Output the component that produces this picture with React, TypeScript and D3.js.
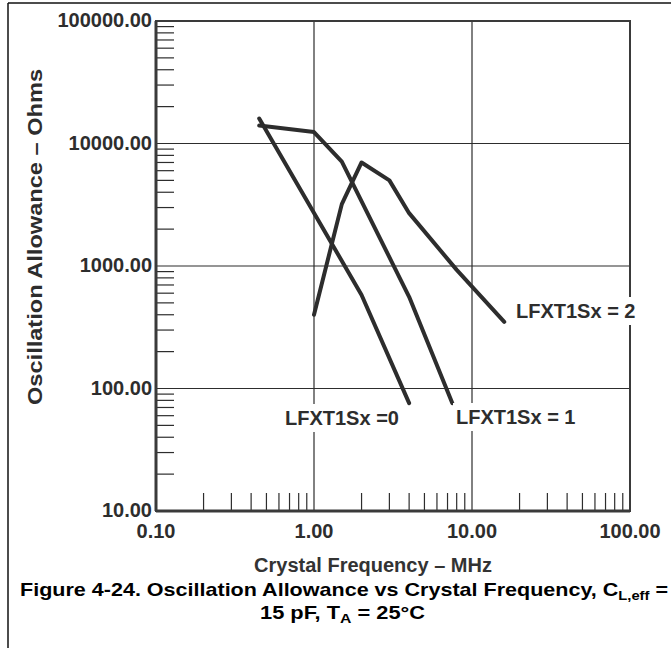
import React, { useEffect, useRef } from 'react';
import * as d3 from 'd3';

// values (frequency in MHz, allowance in Ohms)
const freq0 = [0.45, 2, 4];
const ohms0 = [16000, 580, 76];
const freq1 = [0.45, 1, 1.5, 4, 7.5];
const ohms1 = [14000, 12400, 7100, 560, 76];
const freq2 = [1, 1.5, 2, 3, 4, 8, 16];
const ohms2 = [400, 3200, 7000, 5000, 2700, 930, 350];

const seriesNames = ['LFXT1Sx =0', 'LFXT1Sx = 1', 'LFXT1Sx = 2'];

const xTicks = [0.1, 1, 10, 100];
const xTickLabels = ['0.10', '1.00', '10.00', '100.00'];
const yTicks = [10, 100, 1000, 10000, 100000];
const yTickLabels = ['10.00', '100.00', '1000.00', '10000.00', '100000.00'];
const minorSteps = [2, 3, 4, 5, 6, 7, 8, 9];

const FONT = '"Liberation Sans", Arial, Helvetica, sans-serif';
const INK = '#2d2d2d';

const App = () => {
  const ref = useRef<SVGSVGElement>(null);

  useEffect(() => {
    document.body.style.margin = '0';
    const svg = d3.select(ref.current);
    svg.selectAll('*').remove();

    const left = 156, right = 630, top = 21, bottom = 511;
    const x = d3.scaleLog().domain([0.1, 100]).range([left, right]);
    const y = d3.scaleLog().domain([10, 100000]).range([bottom, top]);

    // page frame (top and left rules only)
    svg.append('line').attr('x1', 8).attr('x2', 671).attr('y1', 3).attr('y2', 3)
      .attr('stroke', '#111').attr('stroke-width', 1.5);
    svg.append('line').attr('x1', 8).attr('x2', 8).attr('y1', 3).attr('y2', 648)
      .attr('stroke', '#111').attr('stroke-width', 1.5);

    // minor ticks: 2..9 inside every decade
    const xMinor = xTicks.slice(0, -1).flatMap(p => minorSteps.map(k => p * k));
    const yMinor = yTicks.slice(0, -1).flatMap(p => minorSteps.map(k => p * k));

    svg.append('g').selectAll('line')
      .data(yMinor)
      .enter().append('line')
      .attr('x1', left).attr('x2', left + 18)
      .attr('y1', d => y(d)).attr('y2', d => y(d))
      .attr('stroke', INK).attr('stroke-width', 1.2);

    svg.append('g').selectAll('line')
      .data(xMinor)
      .enter().append('line')
      .attr('x1', d => x(d)).attr('x2', d => x(d))
      .attr('y1', bottom).attr('y2', bottom - 18)
      .attr('stroke', INK).attr('stroke-width', 1.2);

    // major grid
    svg.append('g').selectAll('line')
      .data(yTicks.slice(1, -1))
      .enter().append('line')
      .attr('x1', left).attr('x2', right)
      .attr('y1', d => y(d)).attr('y2', d => y(d))
      .attr('stroke', INK).attr('stroke-width', 1.2);

    svg.append('g').selectAll('line')
      .data(xTicks.slice(1, -1))
      .enter().append('line')
      .attr('x1', d => x(d)).attr('x2', d => x(d))
      .attr('y1', top).attr('y2', bottom)
      .attr('stroke', INK).attr('stroke-width', 1.2);

    // plot frame
    svg.append('rect')
      .attr('x', left).attr('y', top)
      .attr('width', right - left).attr('height', bottom - top)
      .attr('fill', 'none').attr('stroke', '#3a3a3a').attr('stroke-width', 2);
    svg.append('line').attr('x1', left).attr('x2', left).attr('y1', top).attr('y2', bottom)
      .attr('stroke', '#3a3a3a').attr('stroke-width', 3);
    svg.append('line').attr('x1', left).attr('x2', right).attr('y1', bottom).attr('y2', bottom)
      .attr('stroke', '#3a3a3a').attr('stroke-width', 3);

    // tick labels
    svg.append('g').selectAll('text')
      .data(yTicks)
      .enter().append('text')
      .attr('x', left - 4)
      .attr('y', d => y(d) + 6)
      .attr('text-anchor', 'end')
      .style('font-family', FONT).style('font-weight', 'bold').style('font-size', '20px')
      .attr('fill', INK)
      .text((d, i) => yTickLabels[i]);

    svg.append('g').selectAll('text')
      .data(xTicks)
      .enter().append('text')
      .attr('x', d => x(d))
      .attr('y', 538)
      .attr('text-anchor', 'middle')
      .style('font-family', FONT).style('font-weight', 'bold').style('font-size', '20px')
      .attr('fill', INK)
      .text((d, i) => xTickLabels[i]);

    // curves
    const line = d3.line<[number, number]>()
      .x(d => x(d[0]))
      .y(d => y(d[1]));

    const curves: [number, number][][] = [
      freq0.map((f, i) => [f, ohms0[i]]),
      freq1.map((f, i) => [f, ohms1[i]]),
      freq2.map((f, i) => [f, ohms2[i]]),
    ];

    svg.append('g').selectAll('path')
      .data(curves)
      .enter().append('path')
      .attr('d', d => line(d))
      .attr('fill', 'none')
      .attr('stroke', INK)
      .attr('stroke-width', 4)
      .attr('stroke-linecap', 'round')
      .attr('stroke-linejoin', 'round');

    // curve labels, with a white box so the grid stops behind them
    const labelPos = [
      { x: 285, y: 425 },
      { x: 456, y: 424 },
      { x: 516, y: 318 },
    ];
    const labels = svg.append('g');
    seriesNames.forEach((name, i) => {
      const t = labels.append('text')
        .attr('x', labelPos[i].x)
        .attr('y', labelPos[i].y)
        .style('font-family', FONT).style('font-weight', 'bold').style('font-size', '20px')
        .attr('fill', INK)
        .text(name);
      const bb = (t.node() as SVGTextElement).getBBox();
      labels.insert('rect', 'text')
        .attr('x', bb.x - 3).attr('y', bb.y - 3)
        .attr('width', bb.width + 6).attr('height', bb.height + 6)
        .attr('fill', 'white');
    });

    // axis titles
    svg.append('text')
      .attr('transform', 'translate(42, 237) rotate(-90)')
      .attr('text-anchor', 'middle')
      .attr('textLength', 336).attr('lengthAdjust', 'spacingAndGlyphs')
      .style('font-family', FONT).style('font-weight', 'bold').style('font-size', '21px')
      .attr('fill', INK)
      .text('Oscillation Allowance – Ohms');

    svg.append('text')
      .attr('x', 373).attr('y', 572)
      .attr('text-anchor', 'middle')
      .style('font-family', FONT).style('font-weight', 'bold').style('font-size', '20px')
      .attr('fill', '#333')
      .text('Crystal Frequency – MHz');

    // caption
    const cap1 = svg.append('text')
      .attr('x', 20).attr('y', 596)
      .attr('textLength', 648).attr('lengthAdjust', 'spacingAndGlyphs')
      .style('font-family', FONT).style('font-weight', 'bold').style('font-size', '19px')
      .attr('fill', '#000');
    cap1.append('tspan').text('Figure 4-24. Oscillation Allowance vs Crystal Frequency, C');
    cap1.append('tspan').attr('dy', 4).style('font-size', '13px').text('L,eff');
    cap1.append('tspan').attr('dy', -4).text(' =');

    const cap2 = svg.append('text')
      .attr('x', 260).attr('y', 619)
      .attr('textLength', 165).attr('lengthAdjust', 'spacingAndGlyphs')
      .style('font-family', FONT).style('font-weight', 'bold').style('font-size', '18px')
      .attr('fill', '#000');
    cap2.append('tspan').text('15 pF, T');
    cap2.append('tspan').attr('dy', 4).style('font-size', '13px').text('A');
    cap2.append('tspan').attr('dy', -4).text(' = 25°C');
  }, []);

  return <svg ref={ref} width={671} height={648} style={{ display: 'block', background: 'white' }} />;
};

export default App;
